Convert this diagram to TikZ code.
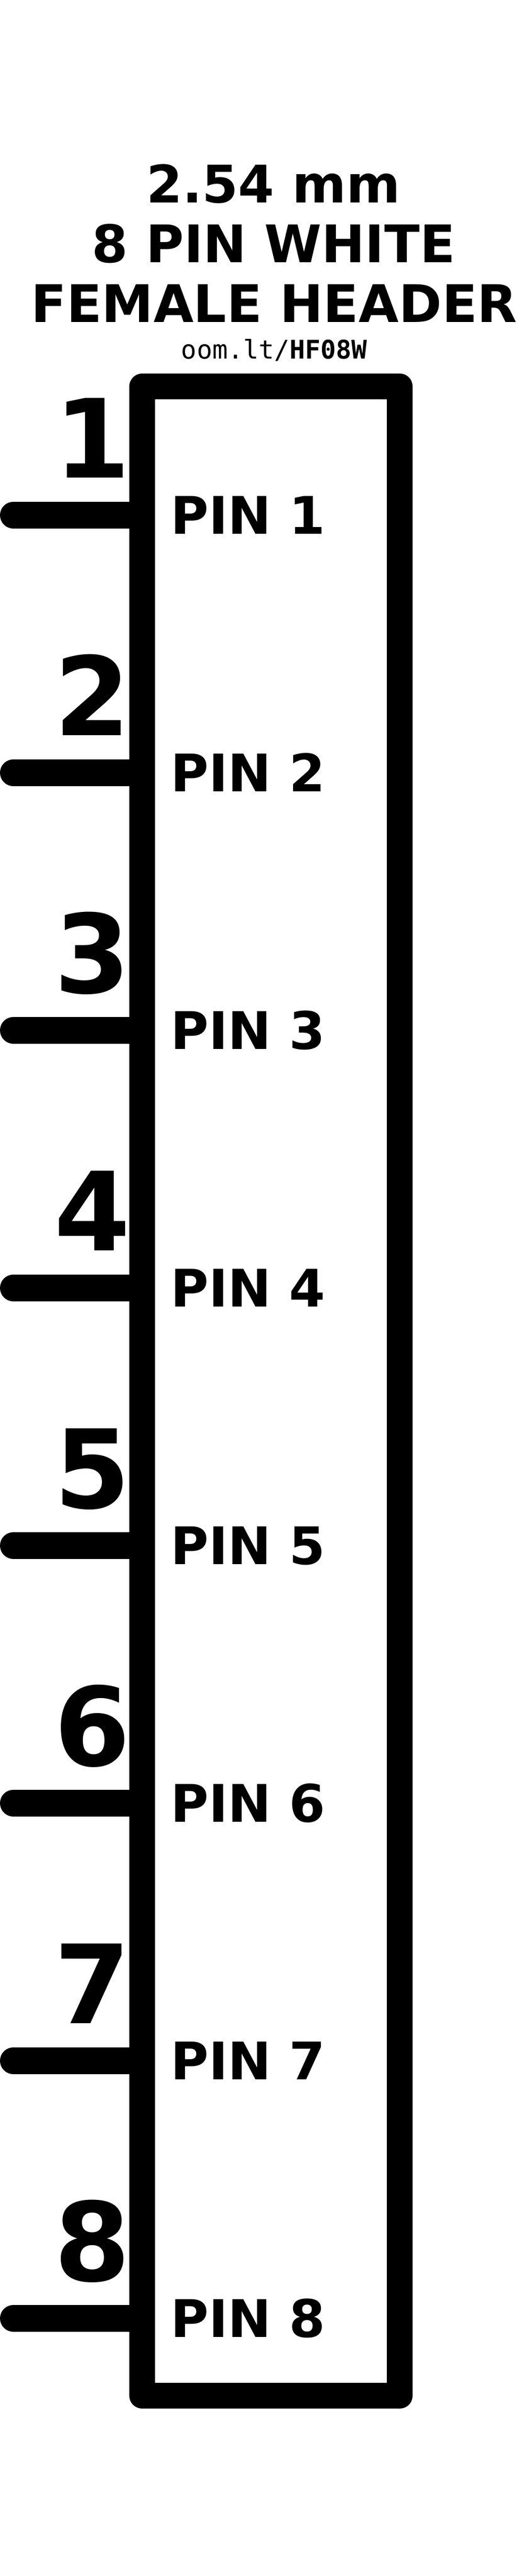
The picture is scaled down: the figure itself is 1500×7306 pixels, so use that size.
\documentclass[tikz,border=0pt]{standalone}
\usepackage{fontspec}
\setmainfont{DejaVu Sans}
\setmonofont{DejaVu Sans Mono}
\begin{document}
\begin{tikzpicture}[x=1pt,y=-1pt,
  titletext/.style={font=\fontsize{147}{170}\selectfont\bfseries, inner sep=0pt, anchor=base},
  urltext/.style={font=\fontsize{73}{80}\selectfont\ttfamily, inner sep=0pt, anchor=base},
  pinnum/.style={font=\fontsize{310}{320}\selectfont\bfseries, inner sep=0pt, anchor=base},
  pinlabel/.style={font=\fontsize{147}{170}\selectfont\bfseries, inner sep=0pt, anchor=base west},
  pinline/.style={line width=76, line cap=round},
  bodybox/.style={draw, line width=73, line join=round, inner sep=0pt, minimum width=730.5, minimum height=5699}]
\useasboundingbox (0,0) rectangle (1500,7306);
\node[titletext] (t1) at (776,575) {2.54 mm};
\node[titletext] (t2) at (776,745) {8 PIN WHITE};
\node[titletext] (t3) at (778,914) {FEMALE HEADER};
\node[urltext] (url) at (778,1018) {oom.lt/\textbf{HF08W}};
\node[bodybox] (body) at (768.75,3945.5) {};
\foreach \i in {1,...,8}{
  \pgfmathsetmacro{\py}{1461+(\i-1)*730.6}
  \coordinate (p\i) at (38,\py);
  \draw[pinline] (p\i) -- (p\i -| body.west);
  \node[pinnum] (n\i) at (262,\py-106) {\i};
  \node[pinlabel] (l\i) at (484,\py+53.5) {PIN \i};
}
\end{tikzpicture}
\end{document}
